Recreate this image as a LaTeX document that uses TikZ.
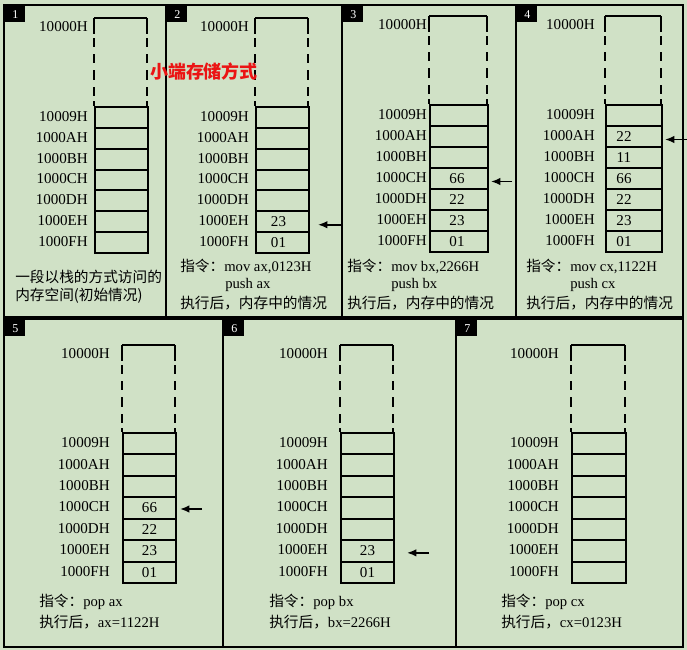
\documentclass[tikz,border=0pt]{standalone}
\usepackage{fontspec}
\setmainfont{Liberation Serif}
\newfontfamily\cjk{Noto Sans CJK SC}
\usetikzlibrary{arrows.meta}
\definecolor{bg}{RGB}{208,225,198}
\definecolor{redtxt}{RGB}{235,20,20}
\tikzset{
 panel/.style={draw=black, line width=1.8pt},
 badge/.style={fill=black, text=white, inner sep=0pt, minimum width=15pt, minimum height=12pt, anchor=north west, font=\fontsize{9}{9}\selectfont},
 cell/.style={draw=black, line width=1.5pt, inner sep=0pt, anchor=north west, font=\fontsize{11.3}{11}\selectfont},
 addr/.style={anchor=east, inner sep=0pt, font=\fontsize{11.3}{11}\selectfont},
 txt/.style={anchor=west, inner sep=0pt, font=\fontsize{11}{11}\selectfont},
 stkline/.style={line width=1.5pt},
 stkdash/.style={line width=1.5pt, dash pattern=on 12pt off 3pt on 6.75pt off 5.25pt on 6.75pt off 5.25pt on 7.5pt off 5.25pt on 6.75pt off 3.75pt on 8pt},
 sp/.style={-{Latex[length=7pt,width=5.6pt]}, line width=1.2pt},
 redlabel/.style={text=redtxt, inner sep=0pt, font=\fontsize{13.5}{14}\selectfont\cjk\bfseries}
}
% #1 prefix, #2 x1, #3 x2, #4 top, #5 rowstart, #6 row height, #7 label right edge, #8 values, #9 value left shift (pt*2)
\newcommand{\memstack}[9]{%
  \pgfmathsetmacro\mw{(#3-#2)*0.75}%
  \pgfmathsetmacro\mh{#6*0.75}%
  \draw[stkline] (#2,#4) -- (#3,#4);
  \draw[stkdash] (#2,#4) -- (#2,#5);
  \draw[stkdash] (#3,#4) -- (#3,#5);
  \node[addr] (#1-top) at (#7,#4+9) {10000H};
  \foreach \a [count=\i from 0] in {10009H,1000AH,1000BH,1000CH,1000DH,1000EH,1000FH} {
    \node[addr] (#1-l\i) at (#7,#5+\i*#6+0.5*#6) {\a};
  }
  \foreach \v [count=\i from 0] in {#8} {
    \node[cell, minimum width=\mw pt, minimum height=\mh pt] (#1-c\i) at (#2,#5+\i*#6) {\v\hspace*{#9pt}};
  }
}
\begin{document}
\begin{tikzpicture}[x=0.75pt,y=-0.75pt]
\useasboundingbox (0,0) rectangle (687,650);
\fill[bg] (0,0) rectangle (687,650);
% panels
\draw[panel] (4,5) rectangle (166,317);
\draw[panel] (166,5) rectangle (342,317);
\draw[panel] (342,5) rectangle (516,317);
\draw[panel] (516,5) rectangle (683,317);
\draw[panel] (4,319) rectangle (223,647);
\draw[panel] (223,319) rectangle (456,647);
\draw[panel] (456,319) rectangle (683,647);
% badges
\node[badge] (b1) at (5,6) {1};
\node[badge] (b2) at (167,6) {2};
\node[badge] (b3) at (343,6) {3};
\node[badge] (b4) at (517,6) {4};
\node[badge] (b5) at (5,320) {5};
\node[badge] (b6) at (224,320) {6};
\node[badge] (b7) at (457,320) {7};
% stacks
\memstack{p1}{94}{147}{18}{106}{20.86}{88}{{},{},{},{},{},{},{}}{0}
\memstack{p2}{255}{308}{18}{106}{20.86}{249}{{},{},{},{},{},23,01}{6}
\memstack{p3}{429}{487}{16}{104}{21}{427}{{},{},{},66,22,23,01}{3}
\memstack{p4}{605}{661}{16}{104}{21}{595}{{},22,11,66,22,23,01}{15}
\memstack{p5}{122}{175}{345}{432}{21.43}{110}{{},{},{},66,22,23,01}{0}
\memstack{p6}{340}{393}{345}{432}{21.43}{328}{{},{},{},{},{},23,01}{0}
\memstack{p7}{571}{625}{345}{432}{21.43}{559}{{},{},{},{},{},{},{}}{0}
% arrows (stack pointer)
\path (p2-c5.east) ++(32,3) coordinate (p2-tail);
\draw[sp] (p2-tail) -- ([shift={(8,3)}]p2-c5.east);
\path (p3-c3.east) ++(23,3) coordinate (p3-tail);
\draw[sp] (p3-tail) -- ([shift={(2,3)}]p3-c3.east);
\path (p4-c1.east) ++(24,3) coordinate (p4-tail);
\draw[sp] (p4-tail) -- ([shift={(2,3)}]p4-c1.east);
\path (p5-c3.east) ++(25,1) coordinate (p5-tail);
\draw[sp] (p5-tail) -- ([shift={(3,1)}]p5-c3.east);
\path (p6-c5.east) ++(34,2) coordinate (p6-tail);
\draw[sp] (p6-tail) -- ([shift={(12,2)}]p6-c5.east);
% texts
\node[txt] (t1a) at (15,277) {\cjk 一段以栈的方式访问的};
\node[txt] (t1b) at (15,296) {\cjk 内存空间(初始情况)};
\node[txt] (t2a) at (180,266) {{\cjk 指令：}mov ax,0123H};
\node[txt] (t2b) at (225,285) {push ax};
\node[txt] (t2c) at (180,303) {\cjk 执行后，内存中的情况};
\node[txt] (t3a) at (347,266) {{\cjk 指令：}mov bx,2266H};
\node[txt] (t3b) at (391,285) {push bx};
\node[txt] (t3c) at (347,303) {\cjk 执行后，内存中的情况};
\node[txt] (t4a) at (526,266) {{\cjk 指令：}mov cx,1122H};
\node[txt] (t4b) at (570,285) {push cx};
\node[txt] (t4c) at (526,303) {\cjk 执行后，内存中的情况};
\node[txt] (t5a) at (39,602) {{\cjk 指令：}pop ax};
\node[txt] (t5b) at (39,622) {{\cjk 执行后，}ax=1122H};
\node[txt] (t6a) at (269,602) {{\cjk 指令：}pop bx};
\node[txt] (t6b) at (269,622) {{\cjk 执行后，}bx=2266H};
\node[txt] (t7a) at (501,602) {{\cjk 指令：}pop cx};
\node[txt] (t7b) at (501,622) {{\cjk 执行后，}cx=0123H};
% red label
\node[redlabel] (little) at (204,72) {小端存储方式};
\end{tikzpicture}
\end{document}
